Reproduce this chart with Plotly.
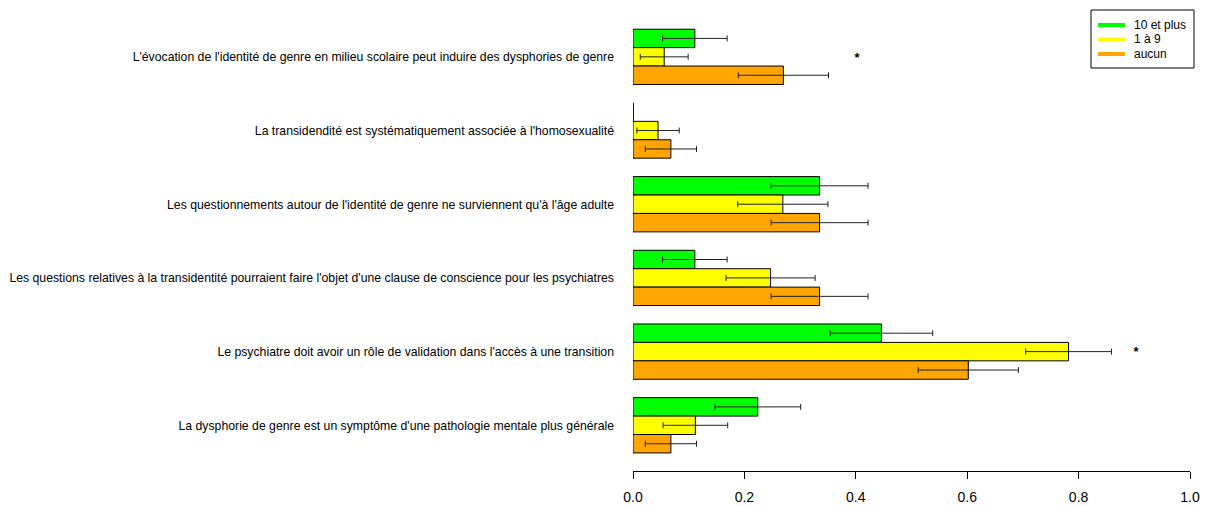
import plotly.graph_objects as go

categories = [
    "L'évocation de l'identité de genre en milieu scolaire peut induire des dysphories de genre",
    "La transidendité est systématiquement associée à l'homosexualité",
    "Les questionnements autour de l'identité de genre ne surviennent qu'à l'âge adulte",
    "Les questions relatives à la transidentité pourraient faire l'objet d'une clause de conscience pour les psychiatres",
    "Le psychiatre doit avoir un rôle de validation dans l'accès à une transition",
    "La dysphorie de genre est un symptôme d'une pathologie mentale plus générale",
]
series_names = ["10 et plus", "1 à 9", "aucun"]
colors = ["#00FF00", "#FFFF00", "#FFA500"]

vals_10plus = [0.111, 0.0, 0.335, 0.111, 0.446, 0.224]
err_10plus = [0.058, 0.0, 0.087, 0.058, 0.092, 0.077]
vals_1a9 = [0.056, 0.045, 0.269, 0.247, 0.782, 0.112]
err_1a9 = [0.043, 0.038, 0.081, 0.080, 0.077, 0.058]
vals_aucun = [0.270, 0.068, 0.335, 0.335, 0.602, 0.068]
err_aucun = [0.081, 0.046, 0.087, 0.087, 0.090, 0.046]

star_groups = [0, 4]
star_x = [0.402, 0.903]

values = [vals_10plus, vals_1a9, vals_aucun]
errors = [err_10plus, err_1a9, err_aucun]

W, H = 1205, 506
ML, MR, MT, MB = 633, 15, 20, 35
PW, PH = W - ML - MR, H - MT - MB

ypos = list(range(len(categories)))
nser = len(series_names)
bargap = 0.25
slot = (1 - bargap) / nser

fig = go.Figure()
for i in range(nser):
    fig.add_trace(go.Bar(
        y=ypos, x=values[i], orientation="h",
        marker=dict(color=colors[i], line=dict(color="black", width=1)),
        error_x=dict(type="data", array=errors[i], color="#222222", thickness=1, width=3),
        showlegend=False, name=series_names[i],
    ))
    # zero-valued bars drawn as a thin outline line (like R barplot)
    for g, v in enumerate(values[i]):
        if v == 0:
            off = -(1 - bargap) / 2 + i * slot
            fig.add_trace(go.Scatter(
                x=[0, 0], y=[g + off, g + off + slot], mode="lines",
                line=dict(color="black", width=1), showlegend=False, hoverinfo="skip"))

# significance stars on the middle bar of the group
fig.add_trace(go.Scatter(
    x=star_x, y=[g + 0.02 for g in star_groups], mode="text", text=["<b>*</b>"] * len(star_x),
    textfont=dict(size=13, color="black", family="Liberation Sans, Arial"),
    textposition="middle center", showlegend=False, hoverinfo="skip"))

# manual legend (R-style: thick line samples, tight rows)
def px_x(p):
    return (p - ML) / PW

def px_y(p):
    return (H - MB - p) / PH

shapes = [dict(type="rect", xref="paper", yref="paper",
               x0=px_x(1091), x1=px_x(1194), y0=px_y(68), y1=px_y(10),
               line=dict(color="black", width=1), fillcolor="white", layer="above")]
annotations = []
row_y = [25, 39.5, 54]
for i in range(nser):
    shapes.append(dict(type="line", xref="paper", yref="paper",
                       x0=px_x(1098), x1=px_x(1125), y0=px_y(row_y[i]), y1=px_y(row_y[i]),
                       line=dict(color=colors[i], width=4), layer="above"))
    annotations.append(dict(xref="paper", yref="paper", x=px_x(1132), y=px_y(row_y[i]),
                            xanchor="left", yanchor="middle", text=series_names[i],
                            showarrow=False, font=dict(size=12, color="black")))

fig.update_layout(
    width=W, height=H,
    margin=dict(l=ML, r=MR, t=MT, b=MB),
    plot_bgcolor="white", paper_bgcolor="white",
    barmode="group", bargap=bargap, bargroupgap=0,
    showlegend=False,
    font=dict(family="Liberation Sans, Arial", size=12, color="black"),
    xaxis=dict(range=[0, 1], tickvals=[0, 0.2, 0.4, 0.6, 0.8, 1.0],
               ticktext=["0.0", "0.2", "0.4", "0.6", "0.8", "1.0"],
               showgrid=False, zeroline=False, showline=True, linecolor="black",
               linewidth=1, ticks="outside", ticklen=7, tickcolor="black",
               tickfont=dict(size=14), ticklabelstandoff=6, automargin=False),
    yaxis=dict(range=[5.62, -0.5], tickvals=ypos, ticktext=categories,
               showgrid=False, zeroline=False, showline=False, ticks="",
               tickfont=dict(size=12.25), ticklabelstandoff=18, automargin=False),
    shapes=shapes, annotations=annotations,
)

fig.write_html("out.html", config={"displayModeBar": False},
               post_script="document.body.style.margin='0';document.body.style.overflow='hidden';")
